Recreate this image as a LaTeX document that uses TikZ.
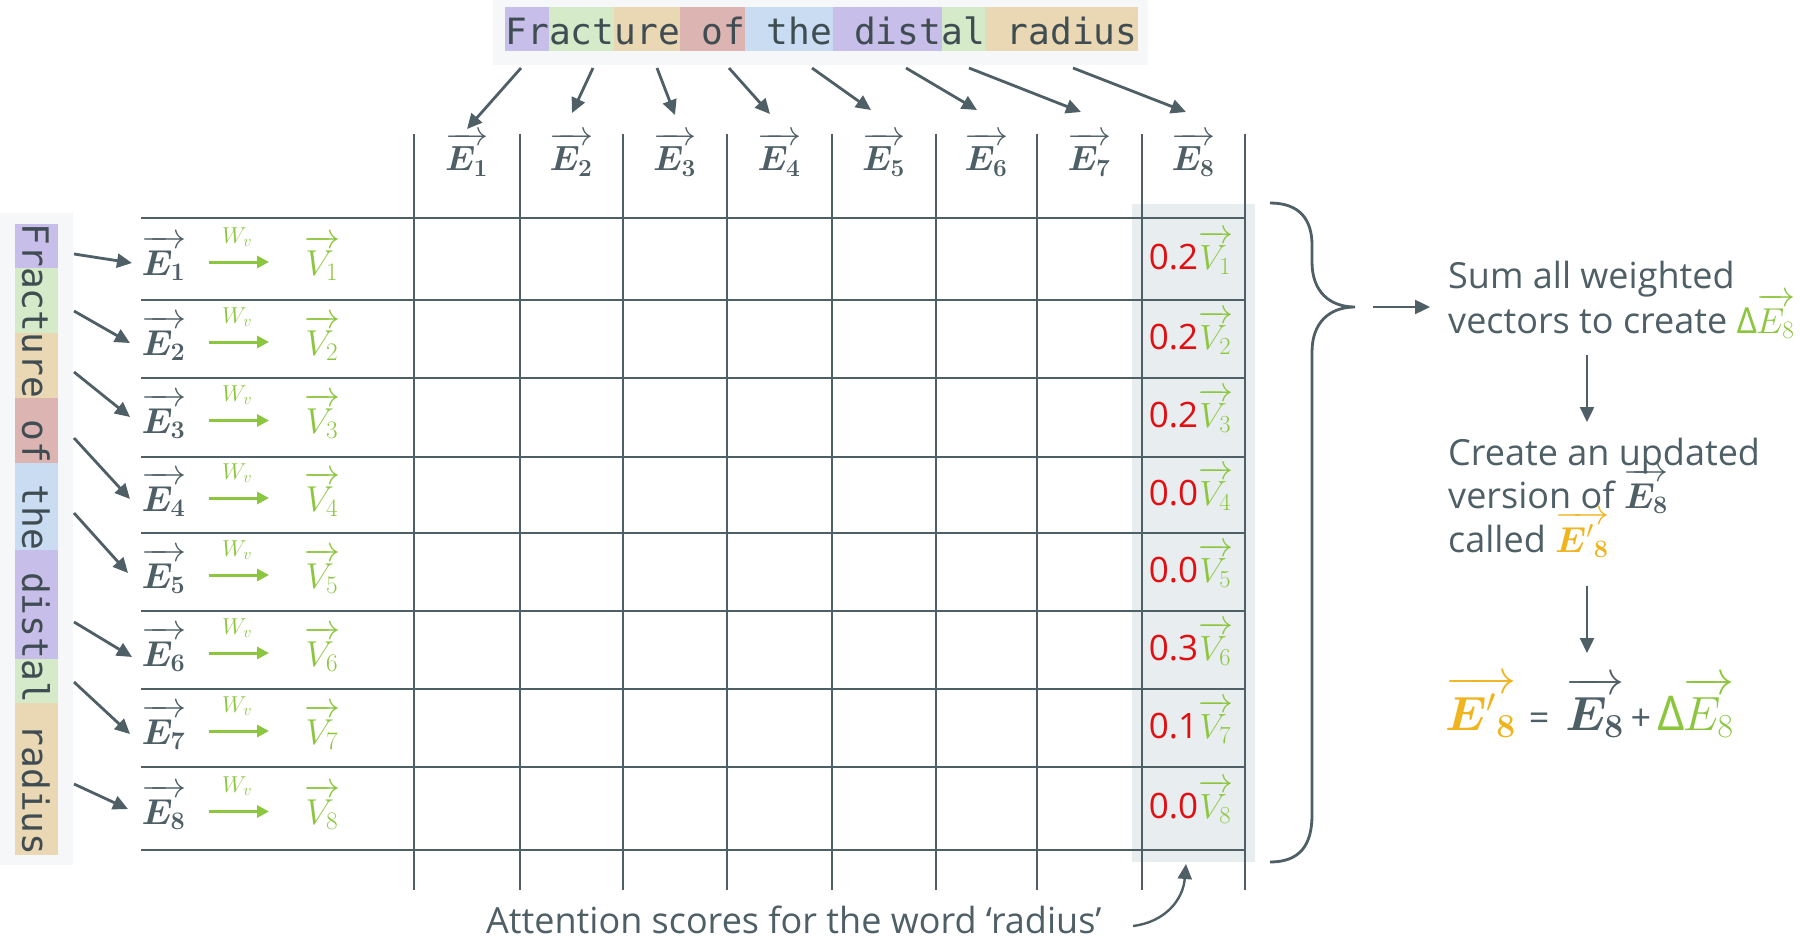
\RequirePackage{fix-cm}
\documentclass[tikz,border=0pt]{standalone}
\usepackage{amsmath,bm}
\usepackage[no-math]{fontspec}
\setmainfont{Open Sans}
\newfontfamily\monofont{DejaVu Sans Mono}
\usetikzlibrary{arrows.meta}
\definecolor{slate}{HTML}{4F5F66}
\definecolor{vgreen}{HTML}{8CC63F}
\definecolor{vred}{HTML}{E10F12}
\definecolor{vgold}{HTML}{F0B41E}
\definecolor{hilite}{HTML}{E8EDEF}
\definecolor{panel}{HTML}{F6F7F9}
\definecolor{tkpurple}{HTML}{C8BEEA}
\definecolor{tkgreen}{HTML}{D5EAC9}
\definecolor{tktan}{HTML}{EAD8B4}
\definecolor{tkred}{HTML}{DCB5B2}
\definecolor{tkblue}{HTML}{C9DCF1}
\newcommand{\myvec}[1]{\overrightarrow{\vrule height 0.74em depth 0pt width 0pt #1\kern1pt}}
\begin{document}
\begin{tikzpicture}[x=1pt,y=-1pt,
  gridline/.style={slate, line width=2.8pt},
  arr/.style={slate, line width=2.8pt, -{Triangle[length=15pt,width=14pt]}},
  garr/.style={vgreen, line width=3pt, -{Triangle[length=12pt,width=12pt]}},
  mono/.style={inner sep=0pt, text=slate!80!black, font=\monofont\fontsize{36.2}{40}\selectfont},
  hlab/.style={anchor=base, inner sep=0pt, text=slate, font=\fontsize{35}{40}\selectfont},
  rlab/.style={anchor=base, inner sep=0pt, font=\fontsize{36}{40}\selectfont},
  wlab/.style={anchor=base, inner sep=0pt, text=vgreen, font=\fontsize{23}{26}\selectfont},
  cell/.style={anchor=base, inner sep=0pt, text=vgreen, font=\fontsize{35}{40}\selectfont},
  rtext/.style={anchor=base west, inner sep=0pt, text=slate, font=\fontsize{36}{44}\selectfont}]
\fill[white] (0,0) rectangle (1800,939);
\useasboundingbox (0,0) rectangle (1800,939);

% top sentence
\fill[panel] (493,0) rectangle (1148,65);
\foreach \a/\b/\c in {505/548.7/tkpurple, 548.7/614.2/tkgreen, 614.2/679.6/tktan, 679.6/745.1/tkred, 745.1/832.5/tkblue, 832.5/941.6/tkpurple, 941.6/985.3/tkgreen, 985.3/1138.1/tktan}
  \fill[\c] (\a,7) rectangle (\b,51);
\node[mono, anchor=base] (toptext) at (821.5,45) {Fracture of the distal radius};

% left sentence
\fill[panel] (0,213) rectangle (73,865);
\foreach \a/\b/\c in {224/267.5/tkpurple, 267.5/332.8/tkgreen, 332.8/398.1/tktan, 398.1/463.4/tkred, 463.4/550.4/tkblue, 550.4/659.2/tkpurple, 659.2/702.7/tkgreen, 702.7/855/tktan}
  \fill[\c] (15,\a) rectangle (58,\b);
\node[mono, rotate=-90] (lefttext) at (36,539.5) {Fracture of the distal radius};

% highlighted column
\fill[hilite] (1132,204) rectangle (1255,862);

% grid
\foreach \x in {414,520,623,727,832,936,1037,1142,1245}
  \draw[gridline] (\x,134) -- (\x,890);
\foreach \y in {218,300,378,457,533,611,689,767,850}
  \draw[gridline] (141,\y) -- (1245,\y);

% header labels
\foreach \x [count=\i] in {467,571.5,675,779.5,884,986.5,1089.5,1193.5}
  \node[hlab] (H\i) at (\x,171) {$\myvec{\bm{E}_{\mathbf{\i}}}$};

% arrows from top tokens
\foreach \sx/\ex/\ey [count=\i] in {521/467/129, 593/572/113, 657/675/115, 729/770/114, 812/871/110, 906/977/110, 969/1081/112, 1073/1186/112}{
  \coordinate (ts\i) at (\sx,68);
  \coordinate (te\i) at (\ex,\ey);
  \draw[arr] (ts\i) -- (te\i);
}

% rows
\foreach \r/\v/\sy/\ex/\ey [count=\i] in {259/0.2/254/132/263, 339/0.2/311/130/343, 417.5/0.2/372/130/417, 495/0.0/438/130/499, 572/0.0/513/128/573, 650/0.3/622/132/657, 728/0.1/682/130/734, 808.5/0.0/784/128/809}{
  \node[rlab, text=slate] (E\i) at (164,{\r+16}) {$\myvec{\bm{E}_{\mathbf{\i}}}$};
  \node[rlab, text=vgreen] (V\i) at (322.5,{\r+16}) {$\myvec{V_{\i}}$};
  \node[wlab] (W\i) at (237,{\r-16}) {$W_v$};
  \coordinate (ga\i) at (209,{\r+3});
  \coordinate (gb\i) at (269,{\r+3});
  \draw[garr] (ga\i) -- (gb\i);
  \node[cell] (S\i) at (1191,{\r+10}) {\textcolor{vred}{\v}$\myvec{V_{\i}}$};
  \coordinate (ls\i) at (74,\sy);
  \coordinate (le\i) at (\ex,\ey);
  \draw[arr] (ls\i) -- (le\i);
}

% brace
\draw[slate, line width=2.8pt] (1270,203) .. controls (1300,203) and (1312,220) .. (1312,245)
  -- (1312,262) .. controls (1312,292) and (1330,307) .. (1355,307)
  .. controls (1330,307) and (1312,322) .. (1312,352)
  -- (1312,815) .. controls (1312,845) and (1300,862) .. (1270,862);
\coordinate (ba) at (1373,307);
\coordinate (bb) at (1430,307);
\draw[arr, line width=2.4pt] (ba) -- (bb);

% right text
\node[rtext] (s1) at (1448,288) {Sum all weighted};
\node[rtext] (s2) at (1448,333) {vectors to create \textcolor{vgreen}{Δ\kern-1pt$\myvec{E_8}$}};
\coordinate (d1a) at (1587,355);
\coordinate (d1b) at (1587,422);
\draw[arr, line width=2.4pt] (d1a) -- (d1b);
\node[rtext] (c1) at (1448,465) {Create an updated};
\node[rtext] (c2) at (1448,508) {version of $\myvec{\bm{E}_{\mathbf{8}}}$};
\node[rtext] (c3) at (1448,552) {called \textcolor{vgold}{$\myvec{{\bm{E}'}_{\mathbf{8}}}$}};
\coordinate (d2a) at (1587,586);
\coordinate (d2b) at (1587,653);
\draw[arr, line width=2.4pt] (d2a) -- (d2b);
\node[anchor=base west, inner sep=0pt, font=\fontsize{48}{56}\selectfont] (eq) at (1445,730)
  {\textcolor{vgold}{$\myvec{{\bm{E}'}_{\mathbf{8}}}$}\hspace{12pt}\textcolor{slate}{\fontsize{36}{40}\selectfont =}\hspace{16pt}\textcolor{slate}{$\myvec{\bm{E}_{\mathbf{8}}}$}\hspace{6pt}\textcolor{slate}{\fontsize{36}{40}\selectfont +}\hspace{6pt}\textcolor{vgreen}{Δ\kern-2pt$\myvec{E_8}$}};

% bottom caption
\node[rtext] (cap) at (486,933) {Attention scores for the word ‘radius’};
\coordinate (ca) at (1133,926);
\coordinate (cb) at (1186,864);
\draw[arr, line width=2.4pt] (ca) .. controls (1165,922) and (1183,900) .. (cb);
\end{tikzpicture}
\end{document}
